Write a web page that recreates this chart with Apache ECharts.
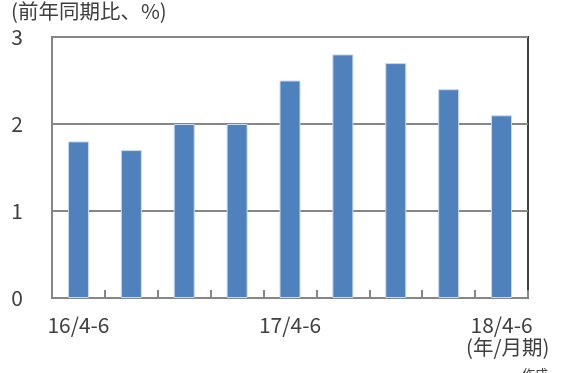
<!DOCTYPE html>
<html>
<head>
<meta charset="utf-8">
<script src="https://cdn.jsdelivr.net/npm/echarts@6/dist/echarts.min.js"></script>
<style>
html,body{margin:0;padding:0;background:#fff;}
#chart{width:562px;height:373px;}
</style>
</head>
<body>
<div id="chart"></div>
<script>
const categories = ['16/4-6','16/7-9','16/10-12','17/1-3','17/4-6','17/7-9','17/10-12','18/1-3','18/4-6'];
const tickLabels = ['16/4-6','','','','17/4-6','','','','18/4-6'];
const values = [1.8, 1.7, 2.0, 2.0, 2.5, 2.8, 2.7, 2.4, 2.1];
const yTicks = [0, 1, 2, 3];

const FONT = '"Noto Sans CJK JP", "Noto Sans", sans-serif';
const chart = echarts.init(document.getElementById('chart'), null, {renderer: 'canvas'});
chart.setOption({
  animation: false,
  backgroundColor: '#ffffff',
  grid: {left: 52, right: 34, top: 37, bottom: 75, show: true, borderColor: '#404040', borderWidth: 2, backgroundColor: 'transparent'},
  xAxis: {
    type: 'category',
    data: categories,
    axisLine: {lineStyle: {color: '#868686', width: 2}},
    axisTick: {show: true, inside: true, length: 8, interval: 0, lineStyle: {color: '#868686', width: 2}},
    axisLabel: {
      interval: 0, margin: 17, fontSize: 21, color: '#404040', fontFamily: FONT,
      formatter: function (v, i) { return tickLabels[i]; }
    }
  },
  yAxis: {
    type: 'value', min: yTicks[0], max: yTicks[yTicks.length - 1], interval: 1,
    axisLine: {show: true, lineStyle: {color: '#868686', width: 2}},
    axisTick: {show: false},
    splitLine: {show: true, lineStyle: {color: '#868686', width: 2}},
    axisLabel: {margin: 29, fontSize: 21, color: '#404040', fontFamily: FONT}
  },
  series: [{
    type: 'bar',
    data: values,
    barWidth: 21,
    itemStyle: {color: '#4F81BD', borderColor: '#c9d9ee', borderWidth: 1}
  }],
  graphic: [
    {type: 'text', left: 11, top: 1, style: {text: '(前年同期比、%)', font: '20.5px ' + FONT, fill: '#404040'}},
    {type: 'text', left: 466, top: 337, style: {text: '(年/月期)', font: '20.5px ' + FONT, fill: '#404040'}},
    {type: 'text', left: 522, top: 368, style: {text: '作成', font: '13px ' + FONT, fill: '#404040'}}
  ]
});
</script>
</body>
</html>
